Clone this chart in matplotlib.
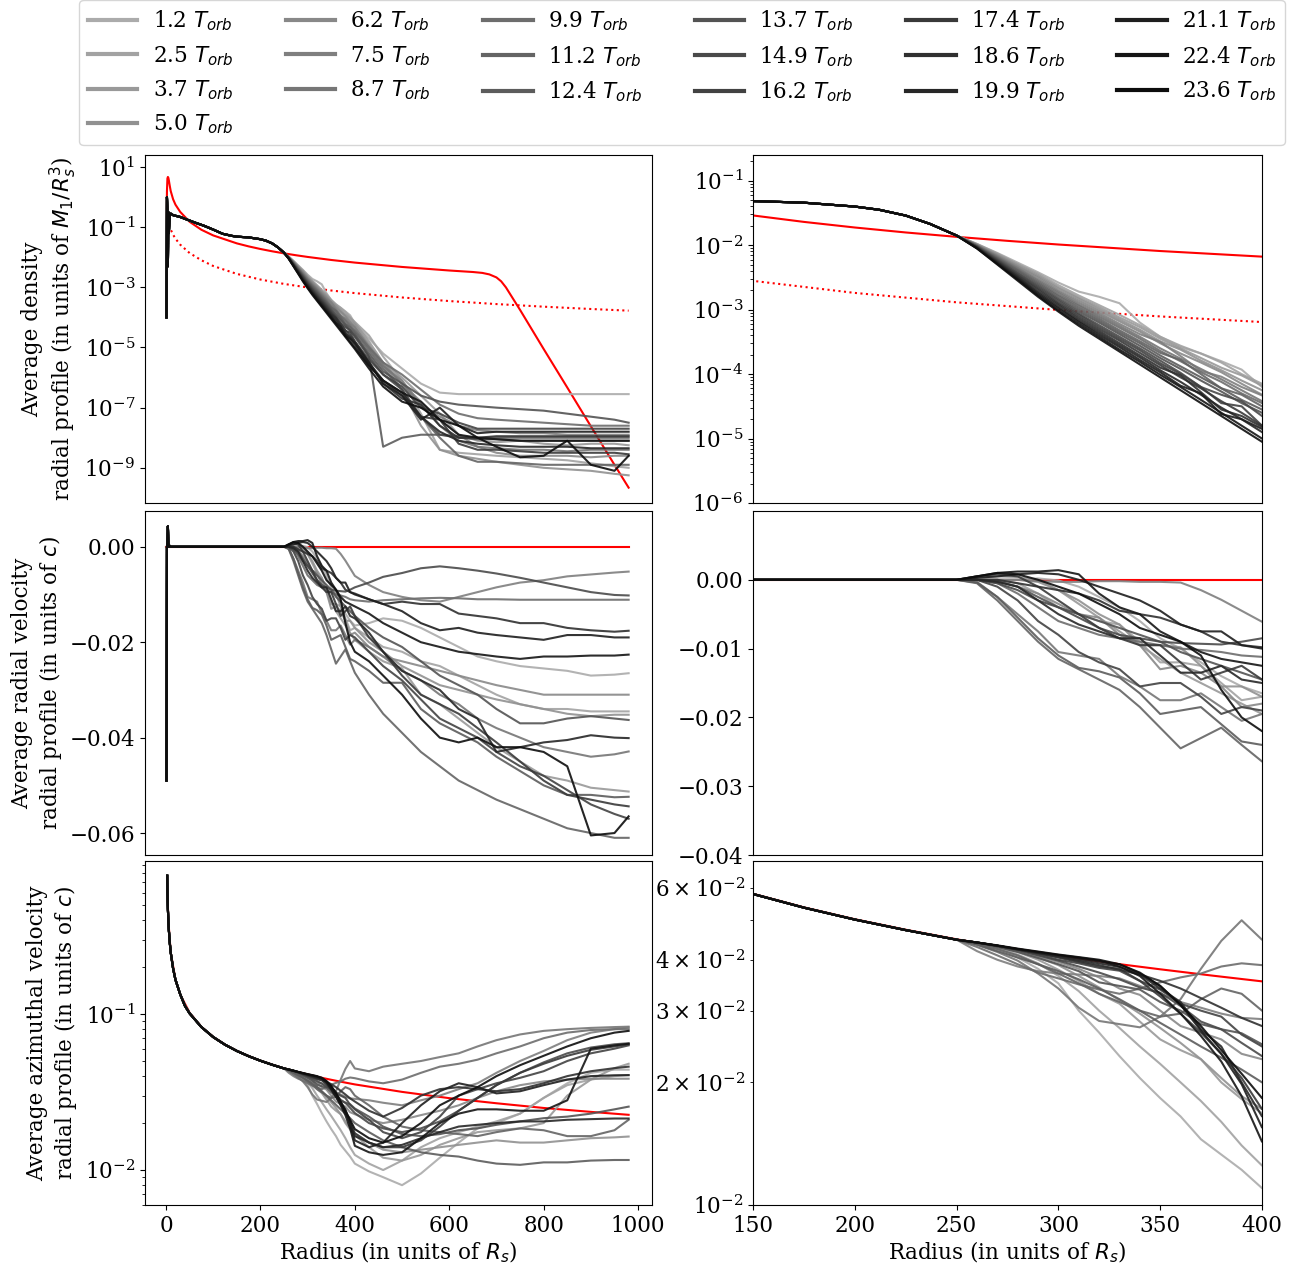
import numpy as np
import matplotlib
matplotlib.use("Agg")
import matplotlib.pyplot as plt
from matplotlib.lines import Line2D
from matplotlib.ticker import NullLocator

# ---------------- data ----------------
times = [1.2, 2.5, 3.7, 5.0, 6.2, 7.5, 8.7, 9.9, 11.2, 12.4, 13.7, 14.9,
         16.2, 17.4, 18.6, 19.9, 21.1, 22.4, 23.6]

# shared outer radius grid (per-series values)
r_out = [260, 270, 280, 290, 300, 310, 320, 330, 340, 350, 360, 370, 380, 390, 400,
         430, 460, 500, 540, 580, 620, 660, 700, 750, 800, 850, 900, 950, 980]

# inner region common to all snapshots
r_in_rho = [1, 2, 3, 4, 5, 6, 8, 10, 15, 20, 30, 40, 60, 80, 100, 120, 140, 150,
            175, 200, 212, 225, 237, 250]
logrho_in = [-4.0, 0.0, -0.4, -2.3, -0.5, -1.2, -0.6, -0.55, -0.6, -0.62, -0.66, -0.72,
             -0.84, -0.95, -1.08, -1.22, -1.29, -1.315, -1.34, -1.40, -1.45, -1.54,
             -1.67, -1.85]

r_in_vr = [1, 2, 3, 4, 5, 6, 8, 10, 50, 100, 150, 200, 250]
vr_in = [-0.049, 0.0, 0.0008, 0.0043, 0.0008, 0.0, 0.0002, 0.0, 0.0, 0.0, 0.0, 0.0, 0.0]

r_in_vphi = [2.5, 3, 4, 5, 6, 8, 10, 15, 20, 30, 40, 50, 75, 100, 125, 150, 175, 200,
             225, 250]
vphi_in = [0.77, 0.61, 0.47, 0.395, 0.346, 0.286, 0.248, 0.196, 0.166, 0.134, 0.113,
           0.101, 0.0825, 0.0712, 0.0636, 0.0580, 0.0537, 0.0502, 0.0473, 0.0448]

# log10 of average density, outer part
dens_00 = [-1.98,-2.12,-2.27,-2.42,-2.58,-2.72,-2.8,-2.9,-3.2,-3.42,-3.58,-3.68,-3.8,-3.93,-4.2, -4.7,-5.2,-5.7,-6.2,-6.5,-6.55,-6.55,-6.55,-6.55,-6.55,-6.55,-6.55,-6.55,-6.55]
dens_01 = [-1.98,-2.13,-2.29,-2.44,-2.62,-2.78,-2.93,-3.08,-3.24,-3.42,-3.56,-3.68,-3.82,-4.0,-4.15, -4.6,-5.3,-6.1,-7.2,-8.4,-8.5,-8.55,-8.6,-8.65,-8.7,-8.75,-8.85,-8.95,-9.0]
dens_02 = [-1.99,-2.14,-2.30,-2.46,-2.65,-2.81,-2.96,-3.12,-3.27,-3.45,-3.6,-3.75,-3.9,-4.02,-4.18, -4.8,-5.5,-6.0,-6.6,-7.2,-7.9,-8.1,-8.15,-8.1,-8.2,-8.25,-8.2,-8.2,-8.25]
dens_03 = [-1.99,-2.15,-2.32,-2.48,-2.67,-2.83,-2.99,-3.15,-3.31,-3.49,-3.62,-3.79,-3.94,-4.1,-4.25, -4.9,-5.6,-6.4,-7.6,-8.4,-8.6,-8.7,-8.8,-8.9,-9.0,-9.05,-9.1,-9.2,-9.25]
dens_04 = [-2.0,-2.16,-2.33,-2.5,-2.7,-2.86,-3.02,-3.18,-3.34,-3.52,-3.68,-3.82,-3.97,-4.15,-4.32, -4.95,-5.5,-6.2,-6.8,-7.4,-7.9,-8.3,-8.5,-8.6,-8.6,-8.6,-8.65,-8.6,-8.6]
dens_05 = [-2.0,-2.17,-2.35,-2.53,-2.72,-2.89,-3.05,-3.22,-3.38,-3.5,-3.72,-3.95,-4.04,-4.2,-4.33, -5.0,-5.6,-6.1,-6.9,-7.3,-7.6,-7.75,-7.8,-7.85,-7.85,-7.9,-7.9,-7.9,-7.9]
dens_06 = [-2.0,-2.18,-2.36,-2.55,-2.74,-2.92,-3.08,-3.25,-3.42,-3.6,-3.76,-3.92,-4.08,-4.25,-4.42, -5.0,-5.6,-6.2,-6.9,-7.6,-8.1,-8.3,-8.35,-8.4,-8.4,-8.45,-8.4,-8.4,-8.4]
dens_07 = [-2.01,-2.19,-2.38,-2.57,-2.77,-2.94,-3.11,-3.28,-3.45,-3.64,-3.8,-3.97,-4.12,-4.3,-4.45, -5.0,-5.5,-5.9,-6.4,-6.9,-7.2,-7.35,-7.4,-7.45,-7.5,-7.55,-7.6,-7.6,-7.6]
dens_08 = [-2.01,-2.2,-2.39,-2.59,-2.79,-2.97,-3.14,-3.32,-3.49,-3.67,-3.78,-4.0,-4.22,-4.32,-4.5, -5.1,-5.7,-6.4,-7.3,-8.0,-8.6,-8.8,-8.8,-8.85,-8.9,-8.9,-8.9,-8.9,-8.9]
dens_09 = [-2.02,-2.21,-2.41,-2.61,-2.82,-3.0,-3.17,-3.35,-3.52,-3.71,-3.88,-4.05,-4.22,-4.4,-4.55, -5.3,-8.3,-8.0,-7.9,-7.9,-7.95,-8.0,-8.0,-8.0,-8.0,-8.0,-8.0,-8.0,-8.0]
dens_10 = [-2.02,-2.22,-2.43,-2.63,-2.84,-3.03,-3.2,-3.38,-3.56,-3.75,-3.92,-4.1,-4.27,-4.45,-4.6, -5.2,-5.8,-6.2,-6.6,-6.8,-6.9,-6.95,-7.0,-7.05,-7.1,-7.2,-7.3,-7.4,-7.5]
dens_11 = [-2.02,-2.23,-2.44,-2.65,-2.86,-3.06,-3.24,-3.42,-3.6,-3.79,-3.98,-4.2,-4.32,-4.42,-4.65, -5.3,-5.9,-6.4,-7.3,-7.9,-8.0,-8.05,-8.05,-8.1,-8.1,-8.1,-8.1,-8.1,-8.1]
dens_12 = [-2.03,-2.24,-2.46,-2.67,-2.89,-3.08,-3.27,-3.45,-3.63,-3.83,-4.0,-4.2,-4.45,-4.5,-4.8, -5.4,-5.9,-6.3,-7.0,-7.2,-7.5,-7.7,-7.7,-7.7,-7.7,-7.7,-7.7,-7.7,-7.7]
dens_13 = [-2.03,-2.25,-2.47,-2.69,-2.91,-3.11,-3.3,-3.48,-3.67,-3.86,-4.05,-4.22,-4.42,-4.6,-4.8, -5.5,-6.1,-6.6,-7.3,-7.4,-8.2,-8.4,-8.4,-8.45,-8.5,-8.5,-8.5,-8.5,-8.55]
dens_14 = [-2.04,-2.26,-2.49,-2.72,-2.93,-3.14,-3.33,-3.52,-3.71,-3.9,-4.02,-4.28,-4.55,-4.65,-4.82, -5.5,-6.2,-6.7,-6.9,-7.6,-8.0,-8.0,-7.95,-7.95,-7.95,-7.95,-7.95,-7.95,-7.95]
dens_15 = [-2.04,-2.27,-2.5,-2.74,-2.96,-3.17,-3.36,-3.55,-3.74,-3.94,-4.12,-4.32,-4.52,-4.7,-4.9, -5.6,-6.1,-6.5,-7.3,-7.8,-8.1,-8.2,-8.25,-8.3,-8.3,-8.3,-8.35,-8.35,-8.35]
dens_16 = [-2.04,-2.28,-2.52,-2.76,-2.98,-3.19,-3.39,-3.58,-3.78,-3.97,-4.18,-4.3,-4.62,-4.7,-4.85, -5.5,-6.2,-6.6,-7.4,-7.0,-7.6,-7.85,-7.8,-7.8,-7.8,-7.8,-7.8,-7.8,-7.8]
dens_17 = [-2.05,-2.29,-2.53,-2.78,-3.01,-3.22,-3.42,-3.62,-3.81,-4.01,-4.2,-4.4,-4.6,-4.8,-5.0, -5.6,-6.1,-6.5,-6.8,-7.4,-7.9,-8.0,-8.05,-8.1,-8.1,-8.1,-8.1,-8.1,-8.1]
dens_18 = [-2.05,-2.3,-2.55,-2.8,-3.03,-3.25,-3.45,-3.65,-3.85,-4.05,-4.25,-4.45,-4.65,-4.85,-5.05, -5.7,-6.3,-6.8,-7.0,-7.4,-7.6,-8.0,-8.3,-8.65,-8.6,-8.1,-8.9,-9.1,-8.6]

# average radial velocity, outer part
vr_00 = [0.0,0.0,0.0,0.0002,-0.0001,-0.001,-0.0025,-0.004,-0.006,-0.0085,-0.01,-0.012,-0.014,-0.0155,-0.0165, -0.016,-0.015,-0.0155,-0.017,-0.019,-0.021,-0.023,-0.024,-0.025,-0.0255,-0.026,-0.027,-0.0268,-0.0265]
vr_01 = [0.0,0.0,-0.0005,-0.002,-0.004,-0.005,-0.006,-0.0065,-0.009,-0.012,-0.012,-0.0125,-0.015,-0.0175,-0.017, -0.019,-0.021,-0.022,-0.024,-0.025,-0.027,-0.029,-0.031,-0.033,-0.034,-0.034,-0.0345,-0.0345,-0.0345]
vr_02 = [0.0002,0.0005,0.0004,0.0,-0.0015,-0.0035,-0.0055,-0.0075,-0.0095,-0.0115,-0.0135,-0.015,-0.0165,-0.018,-0.0195, -0.022,-0.024,-0.0255,-0.031,-0.033,-0.036,-0.039,-0.042,-0.045,-0.048,-0.049,-0.0505,-0.051,-0.0513]
vr_03 = [0.0,0.0,0.0,-0.0003,-0.0015,-0.003,-0.005,-0.0065,-0.0095,-0.0095,-0.0098,-0.0125,-0.0155,-0.0155,-0.017, -0.020,-0.022,-0.025,-0.027,-0.029,-0.030,-0.031,-0.032,-0.033,-0.034,-0.035,-0.0355,-0.0352,-0.0352]
vr_04 = [0.0,-0.0002,-0.001,-0.002,-0.0035,-0.005,-0.0055,-0.008,-0.0095,-0.013,-0.0125,-0.0135,-0.0155,-0.0185,-0.018, -0.021,-0.023,-0.024,-0.025,-0.026,-0.027,-0.028,-0.029,-0.030,-0.031,-0.031,-0.031,-0.031,-0.031]
vr_05 = [0.0,0.0,0.0,-0.0002,-0.0003,-0.0003,-0.0002,-0.0002,-0.0003,-0.0003,-0.0004,-0.0015,-0.0029,-0.0045,-0.0061, -0.008,-0.0095,-0.0105,-0.0112,-0.0115,-0.0105,-0.0095,-0.0085,-0.0075,-0.007,-0.0062,-0.0058,-0.0054,-0.0052]
vr_06 = [-0.0003,-0.0025,-0.005,-0.0075,-0.0105,-0.011,-0.0115,-0.014,-0.0155,-0.0175,-0.0175,-0.0165,-0.0185,-0.0205,-0.0195, -0.021,-0.023,-0.026,-0.028,-0.031,-0.033,-0.036,-0.038,-0.040,-0.042,-0.043,-0.044,-0.0435,-0.0429]
vr_07 = [0.0,-0.0005,-0.002,-0.004,-0.006,-0.007,-0.008,-0.0085,-0.009,-0.0095,-0.01,-0.0102,-0.0105,-0.011,-0.0112, -0.0115,-0.0112,-0.011,-0.0108,-0.0107,-0.0108,-0.011,-0.011,-0.0111,-0.0111,-0.0111,-0.0111,-0.0111,-0.0111]
vr_08 = [-0.0005,-0.003,-0.006,-0.009,-0.0115,-0.013,-0.0145,-0.016,-0.0185,-0.0215,-0.0245,-0.023,-0.0215,-0.024,-0.0264, -0.031,-0.035,-0.039,-0.043,-0.046,-0.049,-0.051,-0.053,-0.055,-0.057,-0.059,-0.060,-0.061,-0.061]
vr_09 = [-0.0004,-0.0025,-0.0055,-0.0085,-0.011,-0.0128,-0.0133,-0.0142,-0.0165,-0.0195,-0.019,-0.0185,-0.021,-0.0235,-0.024, -0.026,-0.0285,-0.0285,-0.034,-0.037,-0.039,-0.041,-0.044,-0.047,-0.050,-0.052,-0.052,-0.0525,-0.0524]
vr_10 = [0.0,-0.0002,-0.001,-0.0025,-0.004,-0.005,-0.006,-0.007,-0.008,-0.009,-0.0105,-0.0115,-0.0125,-0.0135,-0.0145, -0.017,-0.019,-0.021,-0.024,-0.027,-0.029,-0.031,-0.034,-0.037,-0.037,-0.036,-0.0355,-0.036,-0.0363]
vr_11 = [0.0,-0.0005,-0.0015,-0.003,-0.004,-0.0055,-0.007,-0.008,-0.0085,-0.009,-0.0092,-0.0093,-0.0094,-0.009,-0.0085, -0.0075,-0.0063,-0.0055,-0.0045,-0.0041,-0.0045,-0.005,-0.0056,-0.0065,-0.0075,-0.0085,-0.0095,-0.0101,-0.0102]
vr_12 = [0.0,-0.001,-0.003,-0.006,-0.008,-0.0105,-0.012,-0.013,-0.0155,-0.015,-0.015,-0.017,-0.0195,-0.0185,-0.019, -0.022,-0.025,-0.028,-0.032,-0.036,-0.038,-0.040,-0.043,-0.046,-0.048,-0.051,-0.054,-0.056,-0.057]
vr_13 = [0.0005,0.0008,0.0005,-0.001,-0.003,-0.005,-0.007,-0.0085,-0.0095,-0.0095,-0.012,-0.0145,-0.0135,-0.0125,-0.0145, -0.019,-0.022,-0.027,-0.031,-0.033,-0.035,-0.038,-0.041,-0.045,-0.049,-0.052,-0.053,-0.054,-0.0544]
vr_14 = [0.0,0.0,-0.0005,-0.001,-0.0015,-0.002,-0.003,-0.0045,-0.005,-0.0055,-0.0065,-0.0075,-0.009,-0.0095,-0.0098, -0.011,-0.012,-0.0115,-0.012,-0.012,-0.014,-0.0145,-0.015,-0.016,-0.016,-0.017,-0.0175,-0.0178,-0.0176]
vr_15 = [0.0,-0.0003,-0.001,-0.003,-0.005,-0.0065,-0.0075,-0.0085,-0.0085,-0.011,-0.0135,-0.0135,-0.0125,-0.0145,-0.015, -0.018,-0.022,-0.026,-0.028,-0.030,-0.034,-0.036,-0.043,-0.042,-0.041,-0.0405,-0.0395,-0.040,-0.0401]
vr_16 = [0.0003,0.0005,0.0008,0.001,0.0008,0.0,-0.001,-0.002,-0.003,-0.0045,-0.0065,-0.0075,-0.0075,-0.0095,-0.010, -0.011,-0.012,-0.0135,-0.016,-0.0175,-0.017,-0.018,-0.0185,-0.019,-0.0195,-0.0185,-0.0185,-0.019,-0.019]
vr_17 = [0.0005,0.001,0.0012,0.0012,0.0014,0.0008,-0.002,-0.004,-0.005,-0.0075,-0.009,-0.0105,-0.0115,-0.012,-0.0125, -0.014,-0.016,-0.018,-0.020,-0.021,-0.022,-0.0225,-0.023,-0.0235,-0.023,-0.023,-0.0228,-0.0228,-0.0226]
vr_18 = [0.0005,0.001,0.0008,0.0,-0.001,-0.002,-0.0035,-0.005,-0.007,-0.008,-0.009,-0.011,-0.016,-0.020,-0.022, -0.024,-0.027,-0.031,-0.036,-0.040,-0.041,-0.040,-0.042,-0.042,-0.043,-0.046,-0.0605,-0.060,-0.0565]

# average azimuthal velocity, outer part
vphi_00 = [0.0438,0.0425,0.0405,0.0380,0.0350,0.0300,0.0265,0.0232,0.0205,0.0183,0.0165,0.0145,0.0133,0.0122,0.0110, 0.0098,0.0090,0.0080,0.0095,0.0120,0.0150,0.0185,0.0200,0.0230,0.0290,0.0360,0.0420,0.0440,0.0440]
vphi_01 = [0.0440,0.0428,0.0412,0.0392,0.0365,0.0335,0.0300,0.0272,0.0245,0.0222,0.0200,0.0180,0.0160,0.0140,0.0125, 0.0110,0.0100,0.0115,0.0140,0.0160,0.0175,0.0190,0.0205,0.0230,0.0290,0.0350,0.0380,0.0400,0.0406]
vphi_02 = [0.0440,0.0430,0.0418,0.0400,0.0378,0.0355,0.0330,0.0312,0.0282,0.0255,0.0240,0.0228,0.0200,0.0182,0.0168, 0.0140,0.0120,0.0115,0.0125,0.0145,0.0160,0.0175,0.0180,0.0185,0.0200,0.0300,0.0380,0.0450,0.0480]
vphi_03 = [0.0440,0.0430,0.0420,0.0405,0.0388,0.0365,0.0342,0.0318,0.0295,0.0272,0.0250,0.0228,0.0205,0.0185,0.0172, 0.0150,0.0135,0.0130,0.0135,0.0140,0.0145,0.0150,0.0155,0.0150,0.0150,0.0155,0.0160,0.0162,0.0164]
vphi_04 = [0.0440,0.0432,0.0420,0.0408,0.0395,0.0380,0.0362,0.0340,0.0328,0.0300,0.0275,0.0265,0.0255,0.0235,0.0228, 0.0210,0.0200,0.0210,0.0225,0.0240,0.0260,0.0290,0.0320,0.0350,0.0370,0.0380,0.0385,0.0385,0.0385]
vphi_05 = [0.0420,0.0400,0.0385,0.0375,0.0370,0.0368,0.0365,0.0360,0.0345,0.0330,0.0315,0.0305,0.0295,0.0288,0.0286, 0.0280,0.0270,0.0260,0.0280,0.0300,0.0330,0.0360,0.0420,0.0500,0.0580,0.0680,0.0760,0.0800,0.0820]
vphi_06 = [0.0435,0.0418,0.0398,0.0370,0.0340,0.0305,0.0283,0.0278,0.0273,0.0290,0.0320,0.0380,0.0445,0.0500,0.0448, 0.0430,0.0460,0.0480,0.0500,0.0530,0.0560,0.0620,0.0680,0.0740,0.0780,0.0800,0.0815,0.0825,0.0830]
vphi_07 = [0.0430,0.0410,0.0390,0.0372,0.0360,0.0348,0.0338,0.0330,0.0340,0.0352,0.0362,0.0370,0.0385,0.0392,0.0388, 0.0370,0.0360,0.0380,0.0420,0.0460,0.0480,0.0510,0.0560,0.0620,0.0700,0.0760,0.0790,0.0800,0.0800]
vphi_08 = [0.0438,0.0425,0.0410,0.0390,0.0370,0.0350,0.0330,0.0315,0.0300,0.0290,0.0295,0.0320,0.0340,0.0330,0.0300, 0.0260,0.0220,0.0190,0.0180,0.0175,0.0170,0.0165,0.0175,0.0185,0.0180,0.0165,0.0165,0.0180,0.0210]
vphi_09 = [0.0436,0.0420,0.0405,0.0390,0.0375,0.0358,0.0340,0.0320,0.0300,0.0280,0.0262,0.0245,0.0230,0.0215,0.0200, 0.0175,0.0155,0.0140,0.0130,0.0125,0.0122,0.0115,0.0110,0.0108,0.0112,0.0112,0.0115,0.0116,0.0116]
vphi_10 = [0.0440,0.0430,0.0418,0.0404,0.0390,0.0375,0.0352,0.0345,0.0338,0.0315,0.0300,0.0278,0.0270,0.0264,0.0248, 0.0220,0.0190,0.0170,0.0165,0.0170,0.0180,0.0185,0.0195,0.0205,0.0215,0.0220,0.0230,0.0245,0.0255]
vphi_11 = [0.0441,0.0432,0.0422,0.0410,0.0398,0.0385,0.0372,0.0358,0.0342,0.0332,0.0308,0.0282,0.0270,0.0250,0.0232, 0.0200,0.0185,0.0175,0.0185,0.0205,0.0240,0.0290,0.0350,0.0420,0.0490,0.0560,0.0610,0.0640,0.0650]
vphi_12 = [0.0441,0.0433,0.0424,0.0412,0.0400,0.0392,0.0382,0.0376,0.0355,0.0338,0.0312,0.0300,0.0290,0.0262,0.0245, 0.0210,0.0175,0.0160,0.0175,0.0220,0.0300,0.0330,0.0360,0.0390,0.0430,0.0500,0.0560,0.0600,0.0630]
vphi_13 = [0.0441,0.0433,0.0424,0.0415,0.0405,0.0395,0.0385,0.0380,0.0355,0.0325,0.0295,0.0265,0.0235,0.0205,0.0172, 0.0150,0.0140,0.0140,0.0155,0.0190,0.0240,0.0290,0.0350,0.0420,0.0480,0.0540,0.0590,0.0620,0.0640]
vphi_14 = [0.0441,0.0433,0.0424,0.0415,0.0406,0.0397,0.0388,0.0378,0.0368,0.0355,0.0340,0.0322,0.0305,0.0288,0.0275, 0.0240,0.0220,0.0250,0.0300,0.0330,0.0340,0.0330,0.0320,0.0330,0.0360,0.0400,0.0430,0.0450,0.0460]
vphi_15 = [0.0441,0.0433,0.0424,0.0416,0.0408,0.0400,0.0392,0.0384,0.0368,0.0340,0.0315,0.0270,0.0245,0.0200,0.0165, 0.0150,0.0140,0.0145,0.0160,0.0175,0.0190,0.0195,0.0200,0.0205,0.0205,0.0210,0.0212,0.0214,0.0214]
vphi_16 = [0.0441,0.0433,0.0425,0.0417,0.0410,0.0403,0.0396,0.0390,0.0370,0.0345,0.0310,0.0268,0.0235,0.0198,0.0155, 0.0140,0.0150,0.0200,0.0260,0.0320,0.0360,0.0340,0.0310,0.0320,0.0350,0.0380,0.0400,0.0405,0.0406]
vphi_17 = [0.0441,0.0433,0.0425,0.0418,0.0411,0.0405,0.0398,0.0385,0.0365,0.0330,0.0295,0.0260,0.0225,0.0185,0.0143, 0.0130,0.0125,0.0130,0.0160,0.0200,0.0230,0.0245,0.0245,0.0240,0.0240,0.0280,0.0600,0.0630,0.0645]
vphi_18 = [0.0441,0.0434,0.0426,0.0419,0.0412,0.0406,0.0400,0.0390,0.0372,0.0345,0.0310,0.0275,0.0240,0.0210,0.0183, 0.0160,0.0150,0.0165,0.0200,0.0260,0.0300,0.0340,0.0400,0.0470,0.0540,0.0620,0.0700,0.0760,0.0780]

# red reference curves
r_red_rho = [1, 2, 3, 4, 5, 6, 8, 10, 15, 20, 30, 50, 75, 100, 150, 175, 200, 225, 250,
             275, 300, 350, 400, 500, 600, 650, 670, 685, 700, 710, 720, 750, 800, 850,
             900, 950, 980]
logrho_red = [-1.1, 0.2, 0.62, 0.67, 0.64, 0.56, 0.37, 0.2, -0.07, -0.25, -0.49, -0.82,
              -1.086, -1.274, -1.538, -1.638, -1.725, -1.802, -1.87, -1.932, -1.989,
              -2.09, -2.177, -2.322, -2.44, -2.49, -2.52, -2.57, -2.67, -2.8, -3.0,
              -3.75, -5.05, -6.33, -7.62, -8.9, -9.66]
r_red_rho_dot = [7, 10, 15, 20, 30, 50, 75, 100, 150, 200, 250, 300, 350, 400, 500,
                 600, 700, 800, 900, 980]
logrho_red_dot = [-0.93, -1.08, -1.25, -1.38, -1.58, -1.86, -2.1, -2.29, -2.553, -2.74,
                  -2.886, -3.004, -3.105, -3.192, -3.337, -3.456, -3.556, -3.643,
                  -3.72, -3.775]
r_red_vr = [1, 980]
vr_red = [0.0, 0.0]
r_red_vphi = [3, 5, 10, 20, 30, 50, 75, 100, 125, 150, 175, 200, 225, 250, 275, 300,
              325, 350, 375, 400, 500, 600, 700, 800, 900, 980]
vphi_red = [0.612, 0.395, 0.248, 0.1664, 0.1336, 0.102, 0.0828, 0.0714, 0.0638,
            0.0581, 0.0538, 0.0503, 0.0474, 0.0449, 0.0428, 0.0410, 0.0393, 0.0379,
            0.0366, 0.0354, 0.0317, 0.0289, 0.0268, 0.0250, 0.0236, 0.0226]

dens_rows = [dens_00, dens_01, dens_02, dens_03, dens_04, dens_05, dens_06, dens_07,
             dens_08, dens_09, dens_10, dens_11, dens_12, dens_13, dens_14, dens_15,
             dens_16, dens_17, dens_18]
vr_rows = [vr_00, vr_01, vr_02, vr_03, vr_04, vr_05, vr_06, vr_07, vr_08, vr_09,
           vr_10, vr_11, vr_12, vr_13, vr_14, vr_15, vr_16, vr_17, vr_18]
vphi_rows = [vphi_00, vphi_01, vphi_02, vphi_03, vphi_04, vphi_05, vphi_06, vphi_07,
             vphi_08, vphi_09, vphi_10, vphi_11, vphi_12, vphi_13, vphi_14, vphi_15,
             vphi_16, vphi_17, vphi_18]

# ---------------- style ----------------
plt.rcParams['font.family'] = ['DejaVu Serif']
plt.rcParams['mathtext.fontset'] = 'dejavusans'
FS = 15.5
plt.rcParams['font.size'] = FS

W, H = 1305, 1269
fig = plt.figure(figsize=(W / 100, H / 100), dpi=100)

def rect(x0, x1, y0, y1):
    return [x0 / W, 1 - y1 / H, (x1 - x0) / W, (y1 - y0) / H]

colL = (145, 652)
colR = (753, 1262)
rows = [(155, 503), (511, 855), (861, 1205)]

axes = [[fig.add_axes(rect(*c, *r)) for c in (colL, colR)] for r in rows]

grays = [str(round(v, 3)) for v in np.linspace(0.67, 0.05, len(times))]
LW = 1.5
ALPHA = 0.9

for ax in (axes[0][0], axes[0][1]):
    ax.plot(r_red_rho, 10 ** np.array(logrho_red), color='red', lw=LW)
    ax.plot(r_red_rho_dot, 10 ** np.array(logrho_red_dot), color='red', lw=LW, ls=':')
    for i, row in enumerate(dens_rows):
        ax.plot(r_in_rho + r_out, 10 ** np.array(logrho_in + row),
                color=grays[i], lw=LW, alpha=ALPHA)
    ax.set_yscale('log')

for ax in (axes[1][0], axes[1][1]):
    ax.plot(r_red_vr, vr_red, color='red', lw=LW)
    for i, row in enumerate(vr_rows):
        ax.plot(r_in_vr + r_out, vr_in + row, color=grays[i], lw=LW, alpha=ALPHA)

for ax in (axes[2][0], axes[2][1]):
    ax.plot(r_red_vphi, vphi_red, color='red', lw=LW)
    for i, row in enumerate(vphi_rows):
        ax.plot(r_in_vphi + r_out, vphi_in + row, color=grays[i], lw=LW, alpha=ALPHA)
    ax.set_yscale('log')

# limits and ticks
for r in range(3):
    axes[r][0].set_xlim(-44.5, 1029.5)
    axes[r][0].set_xticks([0, 200, 400, 600, 800, 1000])
    axes[r][1].set_xlim(150, 400)
    axes[r][1].set_xticks([150, 200, 250, 300, 350, 400])
    if r < 2:
        for ax in axes[r]:
            ax.tick_params(axis='x', which='both', bottom=False, labelbottom=False)

axes[0][0].set_ylim(10 ** -10.17, 10 ** 1.4)
axes[0][0].set_yticks([1e1, 1e-1, 1e-3, 1e-5, 1e-7, 1e-9])
axes[0][0].yaxis.set_minor_locator(NullLocator())
axes[0][1].set_ylim(1e-6, 10 ** -0.6)

axes[1][0].set_ylim(-0.0646, 0.0075)
axes[1][0].set_yticks([0.0, -0.02, -0.04, -0.06])
axes[1][1].set_ylim(-0.04, 0.01)
axes[1][1].set_yticks([0.0, -0.01, -0.02, -0.03, -0.04])

axes[2][0].set_ylim(10 ** -2.224, 10 ** -0.019)
axes[2][1].set_ylim(0.01, 0.0699)

for r in range(3):
    for ax in axes[r]:
        ax.tick_params(labelsize=FS)

axes[0][0].set_ylabel('Average density\nradial profile (in units of $M_1/R_s^3$)', fontsize=FS)
axes[1][0].set_ylabel('Average radial velocity\nradial profile (in units of $c$)', fontsize=FS)
axes[2][0].set_ylabel('Average azimuthal velocity\nradial profile (in units of $c$)', fontsize=FS)
axes[2][0].set_xlabel('Radius (in units of $R_s$)', fontsize=FS, labelpad=2)
axes[2][1].set_xlabel('Radius (in units of $R_s$)', fontsize=FS, labelpad=2)

handles = [Line2D([0], [0], color=grays[i], lw=3) for i in range(len(times))]
labels = [f'{t:.1f} $T_{{orb}}$' for t in times]
fig.legend(handles, labels, loc='upper center', bbox_to_anchor=(0.5226, 1.0),
           ncol=6, fontsize=FS, handlelength=2.3, handletextpad=0.7,
           columnspacing=2.45, borderaxespad=0.0, fancybox=True)

fig.savefig('out.png', dpi=100)
